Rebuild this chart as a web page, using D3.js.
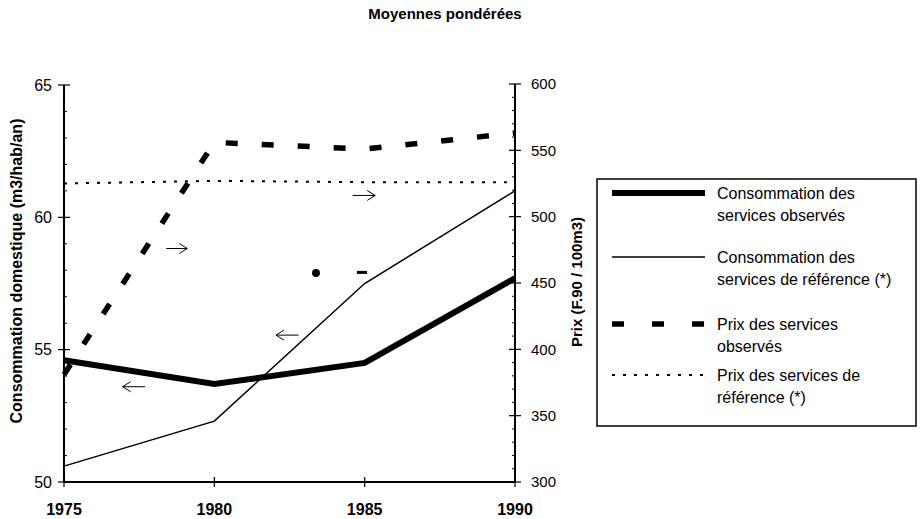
<!DOCTYPE html>
<html>
<head>
<meta charset="utf-8">
<script src="https://cdn.jsdelivr.net/npm/d3@7"></script>
<style>
 body{margin:0;background:#fff;}
 text{font-family:Arial,"Liberation Sans",sans-serif;fill:#000;}
</style>
</head>
<body>
<div id="chart"></div>
<script>
// data
var years = [1975, 1980, 1985, 1990];
var consoObserves = [54.6, 53.7, 54.5, 57.7];   // left axis
var consoReference = [50.6, 52.3, 57.5, 61.0];  // left axis
var prixObserves = [381, 556, 551, 563];        // right axis
var prixReference = [525, 527, 526, 526];       // right axis
var leftTicks = [50, 55, 60, 65];
var rightTicks = [300, 350, 400, 450, 500, 550, 600];
var legendLabels = [
  ["Consommation des", "services observés"],
  ["Consommation des", "services de référence (*)"],
  ["Prix des services", "observés"],
  ["Prix des services de", "référence (*)"]
];
// little arrows telling which axis each curve belongs to: [year from, year to, value, axis]
var arrows = [
  [1978.4, 1979.1, 476, "right"],
  [1984.6, 1985.35, 516, "right"],
  [1977.7, 1976.95, 53.6, "left"],
  [1982.8, 1982.05, 55.55, "left"]
];

var width = 921, height = 519;

var svg = d3.select("#chart").append("svg")
  .attr("width", width)
  .attr("height", height);

var x = d3.scaleLinear().domain([1975, 1990]).range([64, 515]);
var yL = d3.scaleLinear().domain([50, 65]).range([482, 85]);
var yR = d3.scaleLinear().domain([300, 600]).range([482, 84]);

svg.append("text")
  .attr("x", 445).attr("y", 19)
  .attr("text-anchor", "middle")
  .style("font-size", "15px").style("font-weight", "bold")
  .text("Moyennes pondérées");

// axes
var axisG = svg.append("g");
axisG.append("line").attr("x1", x(1975)).attr("x2", x(1975)).attr("y1", yL(65)).attr("y2", yL(50))
  .attr("stroke", "#000").attr("stroke-width", 2);
axisG.append("line").attr("x1", x(1990)).attr("x2", x(1990)).attr("y1", yR(600)).attr("y2", yR(300))
  .attr("stroke", "#000").attr("stroke-width", 2);
axisG.append("line").attr("x1", x(1975)).attr("x2", x(1990)).attr("y1", yL(50)).attr("y2", yL(50))
  .attr("stroke", "#000").attr("stroke-width", 2);

// minor ticks
axisG.selectAll(".minL").data(d3.range(50, 65, 1).filter(function(d){ return d % 5 != 0; }))
  .enter().append("line")
  .attr("x1", x(1975)).attr("x2", x(1975) + 3)
  .attr("y1", function(d){ return yL(d); }).attr("y2", function(d){ return yL(d); })
  .attr("stroke", "#000").attr("stroke-width", 1);
axisG.selectAll(".minR").data(d3.range(300, 600, 10).filter(function(d){ return d % 50 != 0; }))
  .enter().append("line")
  .attr("x1", x(1990) - 3).attr("x2", x(1990))
  .attr("y1", function(d){ return yR(d); }).attr("y2", function(d){ return yR(d); })
  .attr("stroke", "#000").attr("stroke-width", 1);

// major ticks
axisG.selectAll(".tL").data(leftTicks).enter().append("line")
  .attr("x1", x(1975) - 6).attr("x2", x(1975) + 6)
  .attr("y1", function(d){ return yL(d); }).attr("y2", function(d){ return yL(d); })
  .attr("stroke", "#000").attr("stroke-width", 1.2);
axisG.selectAll(".lL").data(leftTicks).enter().append("text")
  .attr("x", 52).attr("y", function(d){ return yL(d); })
  .attr("dy", "0.35em").attr("text-anchor", "end")
  .style("font-size", "16px")
  .text(function(d){ return d; });

axisG.selectAll(".tR").data(rightTicks).enter().append("line")
  .attr("x1", x(1990) - 6).attr("x2", x(1990) + 6)
  .attr("y1", function(d){ return yR(d); }).attr("y2", function(d){ return yR(d); })
  .attr("stroke", "#000").attr("stroke-width", 1.2);
axisG.selectAll(".lR").data(rightTicks).enter().append("text")
  .attr("x", 531).attr("y", function(d){ return yR(d); })
  .attr("dy", "0.35em")
  .style("font-size", "15px")
  .text(function(d){ return d; });

axisG.selectAll(".tX").data(years).enter().append("line")
  .attr("x1", function(d){ return x(d); }).attr("x2", function(d){ return x(d); })
  .attr("y1", yL(50) - 5).attr("y2", yL(50) + 5)
  .attr("stroke", "#000").attr("stroke-width", 1.2);
axisG.selectAll(".lX").data(years).enter().append("text")
  .attr("x", function(d){ return x(d); }).attr("y", 515)
  .attr("text-anchor", "middle")
  .style("font-size", "16px").style("font-weight", "bold")
  .text(function(d){ return d; });

svg.append("text")
  .attr("transform", "translate(22,271) rotate(-90)")
  .attr("text-anchor", "middle")
  .style("font-size", "16px").style("font-weight", "bold")
  .text("Consommation domestique (m3/hab/an)");
svg.append("text")
  .attr("transform", "translate(582,282) rotate(-90)")
  .attr("text-anchor", "middle")
  .style("font-size", "15px").style("font-weight", "bold")
  .text("Prix (F.90 / 100m3)");

// series
var lineL = d3.line().x(function(d, i){ return x(years[i]); }).y(function(d){ return yL(d); });
var lineR = d3.line().x(function(d, i){ return x(years[i]); }).y(function(d){ return yR(d); });

svg.append("path").datum(prixReference).attr("d", lineR)
  .attr("fill", "none").attr("stroke", "#000").attr("stroke-width", 2)
  .attr("stroke-dasharray", "3,8");
svg.append("path").datum(consoReference).attr("d", lineL)
  .attr("fill", "none").attr("stroke", "#000").attr("stroke-width", 1.5);
svg.append("path").datum(consoObserves).attr("d", lineL)
  .attr("fill", "none").attr("stroke", "#000").attr("stroke-width", 6);
svg.append("path").datum(prixObserves).attr("d", lineR)
  .attr("fill", "none").attr("stroke", "#000").attr("stroke-width", 5.5)
  .attr("stroke-dasharray", "12,24");

// the stray marks from the scan (legend remnants)
svg.append("circle").attr("cx", x(1983.38)).attr("cy", yL(57.9)).attr("r", 4).attr("fill", "#000");
svg.append("line").attr("x1", x(1984.74)).attr("x2", x(1985.08))
  .attr("y1", yL(57.92)).attr("y2", yL(57.92)).attr("stroke", "#000").attr("stroke-width", 3);

// arrows
arrows.forEach(function(a){
  var yy = a[3] == "left" ? yL(a[2]) : yR(a[2]);
  var x1 = x(a[0]), x2 = x(a[1]);
  var dir = x2 > x1 ? 1 : -1;
  svg.append("path")
    .attr("d", "M" + x1 + "," + yy + "H" + x2 +
      "M" + (x2 - dir * 8) + "," + (yy - 5) + "L" + x2 + "," + yy + "L" + (x2 - dir * 8) + "," + (yy + 5))
    .attr("fill", "none").attr("stroke", "#000").attr("stroke-width", 1);
});

// legend
var lg = svg.append("g");
lg.append("rect").attr("x", 597).attr("y", 179).attr("width", 319).attr("height", 247)
  .attr("fill", "none").attr("stroke", "#000").attr("stroke-width", 1.5);
var legY = [193, 257, 324, 375];
var legStyles = [
  {w: 6, dash: null},
  {w: 1.5, dash: null},
  {w: 5.5, dash: "12,28"},
  {w: 2, dash: "3,8"}
];
legendLabels.forEach(function(lab, i){
  var l = lg.append("line").attr("x1", 612).attr("x2", 705)
    .attr("y1", legY[i]).attr("y2", legY[i])
    .attr("stroke", "#000").attr("stroke-width", legStyles[i].w);
  if (legStyles[i].dash) l.attr("stroke-dasharray", legStyles[i].dash);
  var t = lg.append("text").attr("x", 717).attr("y", legY[i] + 6).style("font-size", "16px");
  t.append("tspan").attr("x", 717).text(lab[0]);
  t.append("tspan").attr("x", 717).attr("dy", 22).text(lab[1]);
});
</script>
</body>
</html>
